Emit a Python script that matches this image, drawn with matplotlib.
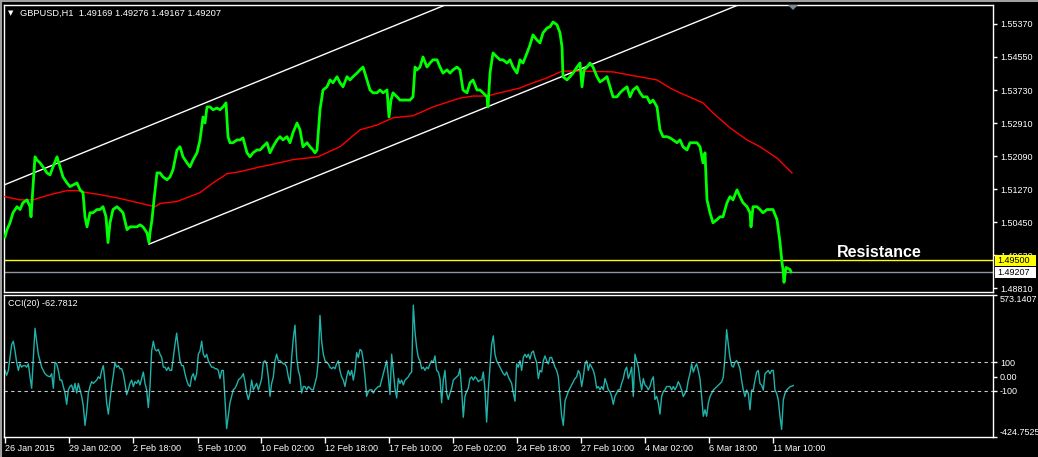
import numpy as np
import matplotlib.pyplot as plt
from matplotlib.patches import Rectangle, Polygon
from matplotlib.transforms import blended_transform_factory

plt.rcParams['font.family'] = ['Liberation Sans', 'DejaVu Sans']

# GBPUSD H1 closes (hour number since the first bar, price)
price_bar = [0, 2, 5, 8, 12, 15, 18, 22, 25, 26, 28, 30, 32, 35, 38, 42, 45, 48, 52, 55, 58, 62, 65, 68,
             72, 75, 78, 80, 82, 85, 88, 92, 95, 98, 101, 103, 105, 108, 112, 115, 118, 122, 125, 128,
             132, 135, 138, 142, 144, 145, 147, 149, 152, 155, 158, 162, 165, 168, 172, 175, 178, 182,
             185, 188, 192, 195, 198, 200, 202, 205, 208, 212, 215, 218, 221, 223, 225, 228, 232, 235,
             238, 242, 245, 248, 252, 255, 258, 262, 265, 268, 272, 275, 278, 282, 285, 288, 292, 295,
             298, 302, 305, 308, 310, 312, 315, 318, 322, 325, 328, 332, 335, 338, 342, 345, 348, 352,
             355, 358, 361, 365, 368, 372, 375, 378, 382, 384, 386, 388, 392, 395, 398, 402, 405, 408,
             410, 412, 415, 418, 422, 425, 428, 432, 435, 438, 442, 445, 448, 452, 455, 458, 462, 465,
             468, 472, 475, 478, 482, 483, 485, 488, 492, 495, 498, 502, 505, 508, 512, 515, 518, 522,
             525, 528, 532, 535, 538, 542, 545, 548, 552, 555, 557, 558, 562, 565, 568, 572, 575, 577,
             579, 582, 585, 588, 592, 595, 598, 602, 605, 608, 612, 615, 618, 622, 625, 628, 632, 635,
             638, 642, 645, 648, 652, 655, 658, 662, 665, 668, 672, 675, 678, 682, 685, 688, 692, 695,
             698, 700, 702, 705, 708, 712, 715, 718, 722, 725, 728, 732, 735, 738, 742, 745, 746, 748,
             752, 755, 758, 762, 765, 768, 772, 775, 777, 778, 779, 781, 785, 786]
price_close = [1.5008, 1.5026, 1.5043, 1.5068, 1.5083, 1.5076, 1.5093, 1.5100, 1.5083, 1.5058, 1.5133,
               1.5207, 1.5199, 1.5192, 1.5182, 1.5167, 1.5162, 1.5182, 1.5207, 1.5182, 1.5157, 1.5142,
               1.5133, 1.5137, 1.5142, 1.5125, 1.5118, 1.5058, 1.5033, 1.5068, 1.5068, 1.5076, 1.5076,
               1.5083, 1.5058, 1.4994, 1.5043, 1.5076, 1.5083, 1.5076, 1.5068, 1.5026, 1.5033, 1.5033,
               1.5033, 1.5038, 1.5033, 1.5018, 1.4994, 1.5018, 1.5051, 1.5100, 1.5167, 1.5167, 1.5157,
               1.5150, 1.5157, 1.5175, 1.5224, 1.5232, 1.5207, 1.5192, 1.5182, 1.5199, 1.5217, 1.5249,
               1.5306, 1.5291, 1.5331, 1.5331, 1.5324, 1.5328, 1.5324, 1.5331, 1.5341, 1.5257, 1.5242,
               1.5242, 1.5249, 1.5249, 1.5254, 1.5217, 1.5207, 1.5217, 1.5224, 1.5224, 1.5232, 1.5242,
               1.5217, 1.5232, 1.5249, 1.5257, 1.5249, 1.5257, 1.5242, 1.5267, 1.5291, 1.5274, 1.5232,
               1.5242, 1.5232, 1.5224, 1.5217, 1.5224, 1.5324, 1.5373, 1.5381, 1.5398, 1.5391, 1.5406,
               1.5391, 1.5381, 1.5406, 1.5398, 1.5406, 1.5415, 1.5423, 1.5430, 1.5406, 1.5373, 1.5366,
               1.5366, 1.5373, 1.5366, 1.5373, 1.5306, 1.5348, 1.5366, 1.5356, 1.5348, 1.5348, 1.5348,
               1.5348, 1.5356, 1.5430, 1.5423, 1.5430, 1.5455, 1.5430, 1.5440, 1.5448, 1.5448, 1.5430,
               1.5415, 1.5423, 1.5415, 1.5423, 1.5430, 1.5423, 1.5373, 1.5366, 1.5391, 1.5398, 1.5373,
               1.5373, 1.5366, 1.5356, 1.5331, 1.5415, 1.5465, 1.5455, 1.5448, 1.5448, 1.5440, 1.5448,
               1.5430, 1.5415, 1.5448, 1.5440, 1.5465, 1.5485, 1.5510, 1.5497, 1.5490, 1.5515, 1.5527,
               1.5530, 1.5542, 1.5535, 1.5515, 1.5480, 1.5406, 1.5398, 1.5406, 1.5415, 1.5430, 1.5440,
               1.5381, 1.5423, 1.5430, 1.5440, 1.5430, 1.5406, 1.5393, 1.5398, 1.5406, 1.5381, 1.5356,
               1.5356, 1.5366, 1.5373, 1.5381, 1.5356, 1.5373, 1.5381, 1.5366, 1.5356, 1.5356, 1.5341,
               1.5348, 1.5331, 1.5274, 1.5257, 1.5257, 1.5254, 1.5249, 1.5242, 1.5249, 1.5232, 1.5224,
               1.5242, 1.5242, 1.5242, 1.5232, 1.5192, 1.5217, 1.5100, 1.5068, 1.5043, 1.5051, 1.5058,
               1.5058, 1.5093, 1.5108, 1.5100, 1.5125, 1.5108, 1.5093, 1.5083, 1.5068, 1.5033, 1.5083,
               1.5083, 1.5076, 1.5068, 1.5076, 1.5076, 1.5076, 1.5051, 1.4994, 1.4944, 1.4927, 1.4895,
               1.4932, 1.4927, 1.4921]

# moving average (red)
ma_bar = [0, 15, 28, 45, 62, 72, 82, 95, 112, 128, 150, 155, 172, 195, 208, 222, 235, 255, 265, 288,
          313, 335, 355, 372, 388, 408, 428, 455, 468, 482, 495, 515, 525, 542, 557, 575, 608, 625,
          652, 665, 675, 698, 708, 725, 742, 755, 772, 787]
ma_val = [1.5108, 1.5100, 1.5100, 1.5113, 1.5123, 1.5123, 1.5118, 1.5113, 1.5105, 1.5096, 1.5083,
          1.5091, 1.5096, 1.5118, 1.5142, 1.5165, 1.5170, 1.5182, 1.5187, 1.5200, 1.5207, 1.5232,
          1.5274, 1.5286, 1.5304, 1.5309, 1.5331, 1.5353, 1.5358, 1.5358, 1.5366, 1.5378, 1.5388,
          1.5403, 1.5420, 1.5420, 1.5418, 1.5410, 1.5398, 1.5378, 1.5366, 1.5341, 1.5316, 1.5279,
          1.5249, 1.5232, 1.5204, 1.5167]

# channel anchors (bar, price)
upper_channel = [(0, 1.5138), (440, 1.5584)]
lower_channel = [(144, 1.4990), (733, 1.5584)]
resistance = 1.49500
last_price = 1.49207

price_ticks = [1.55370, 1.54550, 1.53730, 1.52910, 1.52090, 1.51270, 1.50450, 1.49630, 1.48810]

# CCI(20), sampled every 5/3 bars
cci = [43, 9, 43, 134, 225, 248, 180, 100, 43, 89, 66, 77, 77, 66, 89, -2, -82, 134, 339, 248, 157,
       111, 66, 43, 20, 9, 2, -2, 20, -82, 100, 89, 43, -25, -25, -70, -116, -195, -93, -70, -59,
       -105, -48, -116, -48, -93, -139, -207, -343, -252, -116, -70, -36, -48, -36, -25, -2, -14, 43,
       77, -36, -184, -264, -161, -70, 9, 100, 66, 77, 55, 55, 20, -48, -127, -93, -48, -25, -70, -36,
       -48, -25, -59, -14, 32, -48, -93, -218, -70, 180, 248, 191, 180, 191, 157, 134, 66, 66, 43, 66,
       43, 43, 134, 225, 305, 202, 111, 77, 77, 20, -25, -59, -70, -2, 20, -25, 20, 157, 180, 248,
       157, 134, 157, 111, 89, 66, 66, 55, 55, 43, -14, 43, 43, -161, -366, -275, -184, -139, -93,
       -82, -59, -25, -14, -2, 20, -36, -116, -161, -116, -25, -93, -70, -48, -93, -59, -14, 100, 111,
       89, -2, -139, -48, -2, 111, 157, 111, 111, 100, 89, 89, 66, -2, -48, 134, 270, 361, 134, 43,
       -2, -116, -70, -70, -93, -70, -82, -93, -93, -48, -2, 111, 430, 248, 157, 111, 100, 89, 66, 55,
       66, 55, 89, 111,
       40, -2, -25, -70, -2, 43, 9, 43, -25, 43, 168, 134, 191, 180, 111, -2, -139, -105, -93, -93,
       -116, -93, -82, -70, -70, -25, 20, 66, 111, -2, -127, 157, 43, -82, -150, -14, -48, -25, -59,
       -25, -14, -2, 20, 32, 502, 316, 202, 134, 111, 55, 66, 43, 66, 55, 89, 111, 100, 145, 43, 32,
       -14, -184, -25, 43, -116, -161, -116, -82, -25, -14, -2, 9, 55, -93, -286, -139, -105, -82,
       -14, -2, -25, -2, -14, -36, -25, -25, 32, -93, -320, -93, 66, 225, 286, 157, 111, 89, 66, 43,
       20, 9, 32, -2, -25, -48, -116, -173, 89, 66, 111, 43, 134, 157, 134, 157, 123, 168, 180, 134,
       100, -14, 43, 32, 111, 145, 111, 89, 134, 134, 100, 66, 43, -2, -139, -275, -343, -173, -139,
       -105, -82, -59, -36, -14, -2, 43, 20, -70, -2, 89, 111, 43, 89, 66, 43, -2, -82, -70, -93, -70,
       -93, -14, -48, -93, -105, -139, -195, -139, -116, -93, -93, -48, -14, 43, 66, -14, 20, 66,
       -139, 157, 111, 66, -25, -93, -14, -59, -70, -93, -70, -25, -2, -161, -139, -184, -264, -139,
       -105, -93, -70, -70, -70, -93, -70, -93, -70, -36,
       -61, -95, -141, -118, -95, -26, 20, 89, 31, 66, 89, 43, -15, -141, -279, -233, -279, -187,
       -141, -118, -95, -84, -72, -61, -49, -38, -3, 134, 330, 227, 134, 77, 66, 100, 112, 89, 54,
       -26, -95, -141, -95, -118, -233, -95, -95, -26, 31, 43, -49, -61, -95, 20, 31, 43, 20, 43, 43,
       -95, -118, -164, -279, -371, -164, -118, -95, -84, -72, -68, -63]
cci_levels = [100, -100]
cci_ticks = [573.1407, 100, 0, -100, -424.7525]
cci_tick_labels = ['573.1407', '100', '0.00', '-100', '-424.7525']

time_ticks = [0, 64, 128, 193, 256, 320, 384, 448, 512, 576, 640, 704, 768]
time_labels = ['26 Jan 2015', '29 Jan 02:00', '2 Feb 18:00', '5 Feb 10:00', '10 Feb 02:00',
               '12 Feb 18:00', '17 Feb 10:00', '20 Feb 02:00', '24 Feb 18:00', '27 Feb 10:00',
               '4 Mar 02:00', '6 Mar 18:00', '11 Mar 10:00']

W, H = 1038, 457
fig = plt.figure(figsize=(W / 100, H / 100), dpi=100, facecolor='black')


def box(l, t, r, b):
    return [l / W, 1 - b / H, (r - l) / W, (b - t) / H]


ax = fig.add_axes(box(4, 5, 993, 292), facecolor='black')
ax2 = fig.add_axes(box(4, 295, 993, 437), facecolor='black')

for a in (ax, ax2):
    a.set_xlim(-1, 988)
    for s in a.spines.values():
        s.set_color('white')
        s.set_linewidth(1)
    a.yaxis.tick_right()
    a.tick_params(axis='y', colors='white', labelsize=6.5, length=3, width=1, pad=2)

# price panel
ax.set_ylim(1.48711, 1.55842)
ax.plot(price_bar, price_close, color='#00ff00', lw=2.0, zorder=4)
ax.plot(ma_bar, ma_val, color='#ff0000', lw=1, zorder=3)

for (b0, p0), (b1, p1), start, stop in [(upper_channel[0], upper_channel[1], -1, 700),
                                        (lower_channel[0], lower_channel[1], lower_channel[0][0], 900)]:
    slope = (p1 - p0) / (b1 - b0)
    xs = np.array([start, stop])
    ax.plot(xs, p0 + slope * (xs - b0), color='white', lw=1, zorder=2)

ax.axhline(resistance, color='#ffff00', lw=1, zorder=2)
ax.axhline(last_price, color='#8c96a0', lw=1, zorder=2)
ax.text(832, 1.4970, 'Resistance', color='white', fontsize=11.5, fontweight='bold',
        ha='left', va='center')

ax.set_xticks([])
ax.set_yticks(price_ticks)
ax.set_yticklabels([f'{v:.5f}' for v in price_ticks])

tr = blended_transform_factory(fig.transFigure, ax.transData)
ppx = (1.55842 - 1.48711) / 287
for val, col in [(resistance, '#ffff00'), (last_price, '#ffffff')]:
    fig.add_artist(Rectangle((995 / W, val - 5.5 * ppx), 41 / W, 11 * ppx, transform=tr,
                             facecolor=col, edgecolor='none', zorder=5))
    fig.text(997 / W, val, f'{val:.5f}', transform=tr, color='black', fontsize=6.5,
             va='center', ha='left', zorder=6)

# CCI panel
ax2.set_ylim(cci_ticks[-1], cci_ticks[0])
ax2.plot(np.linspace(0, 788.3, len(cci)), cci, color='#20b2aa', lw=1)
for lv in cci_levels:
    ax2.axhline(lv, color='#c8c8c8', lw=0.8, ls=(0, (3, 3)))
ax2.set_yticks(cci_ticks)
ax2.set_yticklabels(cci_tick_labels)
ylabs = ax2.get_yticklabels()
ylabs[0].set_va('top')
ylabs[-1].set_va('bottom')

ax2.set_xticks(time_ticks)
ax2.set_xticklabels(time_labels)
ax2.tick_params(axis='x', colors='white', labelsize=6.5, length=4, width=1, pad=1)
for lab in ax2.get_xticklabels():
    lab.set_ha('left')

# header texts
fig.text(8 / W, 1 - 13 / H, '\u25bc', color='white', fontsize=5, va='center',
         family='DejaVu Sans')
fig.text(20 / W, 1 - 13 / H, 'GBPUSD,H1  1.49169 1.49276 1.49167 1.49207', color='white',
         fontsize=6.7, va='center')
fig.text(8 / W, 1 - 303 / H, 'CCI(20) -62.7812', color='white', fontsize=6.5, va='center')

# chart shift marker and window frame
fig.add_artist(Polygon([(788 / W, 1 - 5 / H), (798 / W, 1 - 5 / H), (793 / W, 1 - 10 / H)],
                       closed=True, transform=fig.transFigure, facecolor='#778899',
                       edgecolor='none'))
fig.add_artist(plt.Line2D([0, 1], [1 - 0.5 / H, 1 - 0.5 / H], transform=fig.transFigure,
                          color='#a0a0a0', lw=1.5))
fig.add_artist(plt.Line2D([0.5 / W, 0.5 / W], [0, 1], transform=fig.transFigure,
                          color='#a0a0a0', lw=1.5))

fig.savefig('out.png', dpi=100, facecolor='black')
